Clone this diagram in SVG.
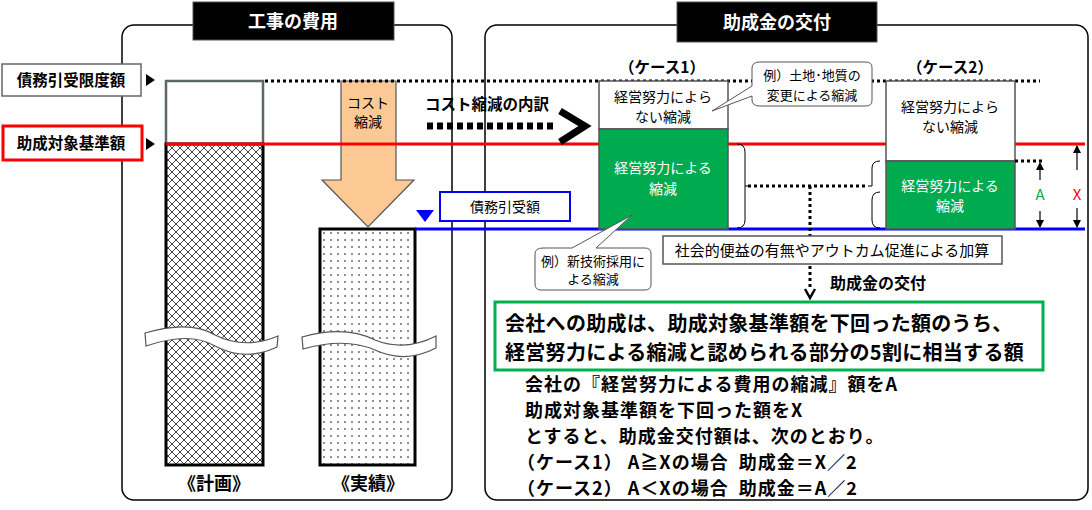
<svg xmlns="http://www.w3.org/2000/svg" width="1092" height="510" viewBox="0 0 1092 510">
<style>
text{font-family:"Noto Sans CJK JP","Noto Sans",sans-serif;fill:#000}
.b{font-weight:bold}
.t{font-size:18px;font-weight:bold;fill:#fff;text-anchor:middle}
.s{font-size:14px;text-anchor:middle}
.w{fill:#fff}
.g{fill:#00aa4f;stroke:#555;stroke-width:1.5}
.panel{fill:none;stroke:#000;stroke-width:1.5}
.dot{stroke:#000;stroke-width:3;stroke-dasharray:3 3;fill:none}
</style>
<defs>
<pattern id="hatch" width="8" height="8" patternUnits="userSpaceOnUse">
<rect width="8" height="8" fill="#fff"/>
<path d="M0 0L8 8M8 0L0 8" stroke="#444" stroke-width="1"/>
</pattern>
<pattern id="dots" width="7" height="7" patternUnits="userSpaceOnUse">
<rect width="7" height="7" fill="#fff"/>
<circle cx="2" cy="2" r="0.8" fill="#000"/>
</pattern>
<marker id="ah" markerWidth="8" markerHeight="8" refX="7" refY="4" orient="auto" markerUnits="userSpaceOnUse"><path d="M0 0L8 4L0 8z" fill="#000"/></marker>
</defs>
<g id="panels">
<rect class="panel" x="122" y="25" width="330" height="475" rx="12"/>
<rect class="panel" x="485" y="25" width="603" height="475" rx="12"/>
<rect x="193" y="2" width="201" height="38" fill="#000" stroke="#555"/>
<text class="t" x="293" y="28">工事の費用</text>
<rect x="677" y="2" width="200" height="40" fill="#000" stroke="#555"/>
<text class="t" x="777" y="29">助成金の交付</text>
</g>
<g id="labels">
<rect x="2" y="64" width="139" height="32" fill="#fff" stroke="#666" stroke-width="1.5"/>
<text class="b" x="71" y="86" font-size="15.5" text-anchor="middle">債務引受限度額</text>
<path d="M146 74L155 80L146 86z"/>
<rect x="3" y="126" width="139" height="34" fill="#fff" stroke="#f00" stroke-width="3"/>
<text class="b" x="71" y="149" font-size="15.5" text-anchor="middle">助成対象基準額</text>
<path d="M146 138L155 144L146 150z"/>
</g>
<g id="plan">
<rect x="166" y="81" width="97" height="63" fill="#fff" stroke="#5a6868" stroke-width="2.5"/>
<rect x="166" y="144" width="97" height="321" fill="url(#hatch)" stroke="#000" stroke-width="3"/>
<text class="b" x="214" y="490" font-size="18" text-anchor="middle">《計画》</text>
</g>
<g id="actual">
<rect x="320" y="229" width="95" height="236" fill="url(#dots)" stroke="#000" stroke-width="3"/>
<text class="b" x="368" y="490" font-size="18" text-anchor="middle">《実績》</text>
</g>
<g id="breaks" fill="#fff" stroke="#555" stroke-width="1.2">
<path d="M145 333Q190 320 215 335Q245 350 278 336L277 347Q245 362 215 346Q190 331 146 346z"/>
<path d="M302 337Q345 325 375 340Q405 352 436 336L436 348Q405 364 375 350Q345 337 303 349z"/>
</g>
<g id="costArrow">
<path d="M341 81H396V180H414L368 227L322 180H341z" fill="#fcc894" stroke="#555" stroke-width="1.2"/>
<text class="s" x="368" y="108">コスト</text>
<text class="s" x="368" y="127">縮減</text>
</g>
<g id="lines">
<path class="dot" d="M265 81H1040"/>
<path d="M166 144H1085" stroke="#f00" stroke-width="3"/>
<path d="M415 229H1085" stroke="#00f" stroke-width="3"/>
<path d="M416 210H434L425 222z" fill="#00f"/>
</g>
<g id="breakdown">
<text class="b" x="425" y="110" font-size="15.5">コスト縮減の内訳</text>
<path d="M427 126H555" stroke="#000" stroke-width="7" stroke-dasharray="6 4"/>
<path d="M560 111L585 126L560 142" fill="none" stroke="#000" stroke-width="7"/>
</g>
<g id="debt">
<rect x="440" y="192" width="130" height="29" fill="#fff" stroke="#00f" stroke-width="2"/>
<text x="505" y="212" font-size="14" text-anchor="middle">債務引受額</text>
</g>
<g id="case1">
<text x="662" y="73" font-size="15.5" text-anchor="middle" class="b">（ケース1）</text>
<rect x="599" y="81" width="129" height="48" fill="#fff" stroke="#555" stroke-width="1.5"/>
<text class="s" x="663" y="102">経営努力によら</text>
<text class="s" x="663" y="122">ない縮減</text>
<rect class="g" x="599" y="129" width="129" height="100"/>
<text class="s w" x="663" y="173">経営努力による</text>
<text class="s w" x="663" y="194">縮減</text>
</g>
<g id="case2">
<text x="950" y="73" font-size="15.5" text-anchor="middle" class="b">（ケース2）</text>
<rect x="886" y="81" width="129" height="80" fill="#fff" stroke="#555" stroke-width="1.5"/>
<text class="s" x="950" y="112">経営努力によら</text>
<text class="s" x="950" y="132">ない縮減</text>
<rect class="g" x="886" y="161" width="129" height="68"/>
<text class="s w" x="950" y="191">経営努力による</text>
<text class="s w" x="950" y="211">縮減</text>
</g>
<g id="callouts" fill="#fff" stroke="#555" stroke-width="1">
<path d="M760 62H866Q872 62 872 68V100Q872 106 866 106H760Q752 106 752 100V96L712 111L752 86V68Q752 62 760 62z"/>
<path d="M543 248H572L632 215L596 248H645Q651 248 651 254V284Q651 290 645 290H541Q535 290 535 284V254Q535 248 543 248z"/>
</g>
<g font-size="13" text-anchor="middle">
<text x="812" y="80">例）土地･地質の</text>
<text x="812" y="100">変更による縮減</text>
<text x="593" y="266">例）新技術採用に</text>
<text x="593" y="284">よる縮減</text>
</g>
<g id="connectors">
<path d="M737 144Q745 144 745 152V220Q745 228 737 228M745 186H748" fill="none" stroke="#000" stroke-width="1"/>
<path d="M880 192Q872 192 872 200V220Q872 228 880 228M880 161Q872 161 872 168V186M872 186H868" fill="none" stroke="#000" stroke-width="1"/>
<path class="dot" d="M748 186H868"/>
<path class="dot" d="M810 186V236"/>
<path class="dot" d="M810 266V290"/>
<path d="M805 289L810 298L815 289" fill="none" stroke="#000" stroke-width="2.5"/>
<path class="dot" d="M1015 161H1043"/>
<g stroke="#000" stroke-width="1.2" marker-end="url(#ah)">
<path d="M1040 180V163"/><path d="M1040 211V227"/>
<path d="M1077 170V146"/><path d="M1077 208V227"/>
</g>
<text x="1040" y="200" font-size="15" text-anchor="middle" style="fill:#00b050">A</text>
<text x="1077" y="200" font-size="15" text-anchor="middle" style="fill:#f00">X</text>
</g>
<g id="bonus">
<rect x="663" y="236" width="339" height="28" fill="#fff" stroke="#555" stroke-width="1.5"/>
<text x="832" y="256" font-size="15" text-anchor="middle">社会的便益の有無やアウトカム促進による加算</text>
<text class="b" x="830" y="289" font-size="16">助成金の交付</text>
</g>
<g id="summary">
<rect x="495" y="302" width="548" height="68" fill="#fff" stroke="#00b050" stroke-width="3"/>
<text class="b" x="505" y="331" font-size="20" letter-spacing="0.3">会社への助成は、助成対象基準額を下回った額のうち、</text>
<text class="b" x="505" y="360" font-size="20" letter-spacing="0.3">経営努力による縮減と認められる部分の5割に相当する額</text>
</g>
<g id="notes" class="b" font-size="18" letter-spacing="1">
<text x="525" y="391">会社の『経営努力による費用の縮減』額をA</text>
<text x="525" y="417">助成対象基準額を下回った額をX</text>
<text x="525" y="443">とすると、助成金交付額は、次のとおり。</text>
<text x="517" y="469" xml:space="preserve">（ケース1） A≧Xの場合  助成金＝X／2</text>
<text x="517" y="495" xml:space="preserve">（ケース2） A＜Xの場合  助成金＝A／2</text>
</g>
</svg>
